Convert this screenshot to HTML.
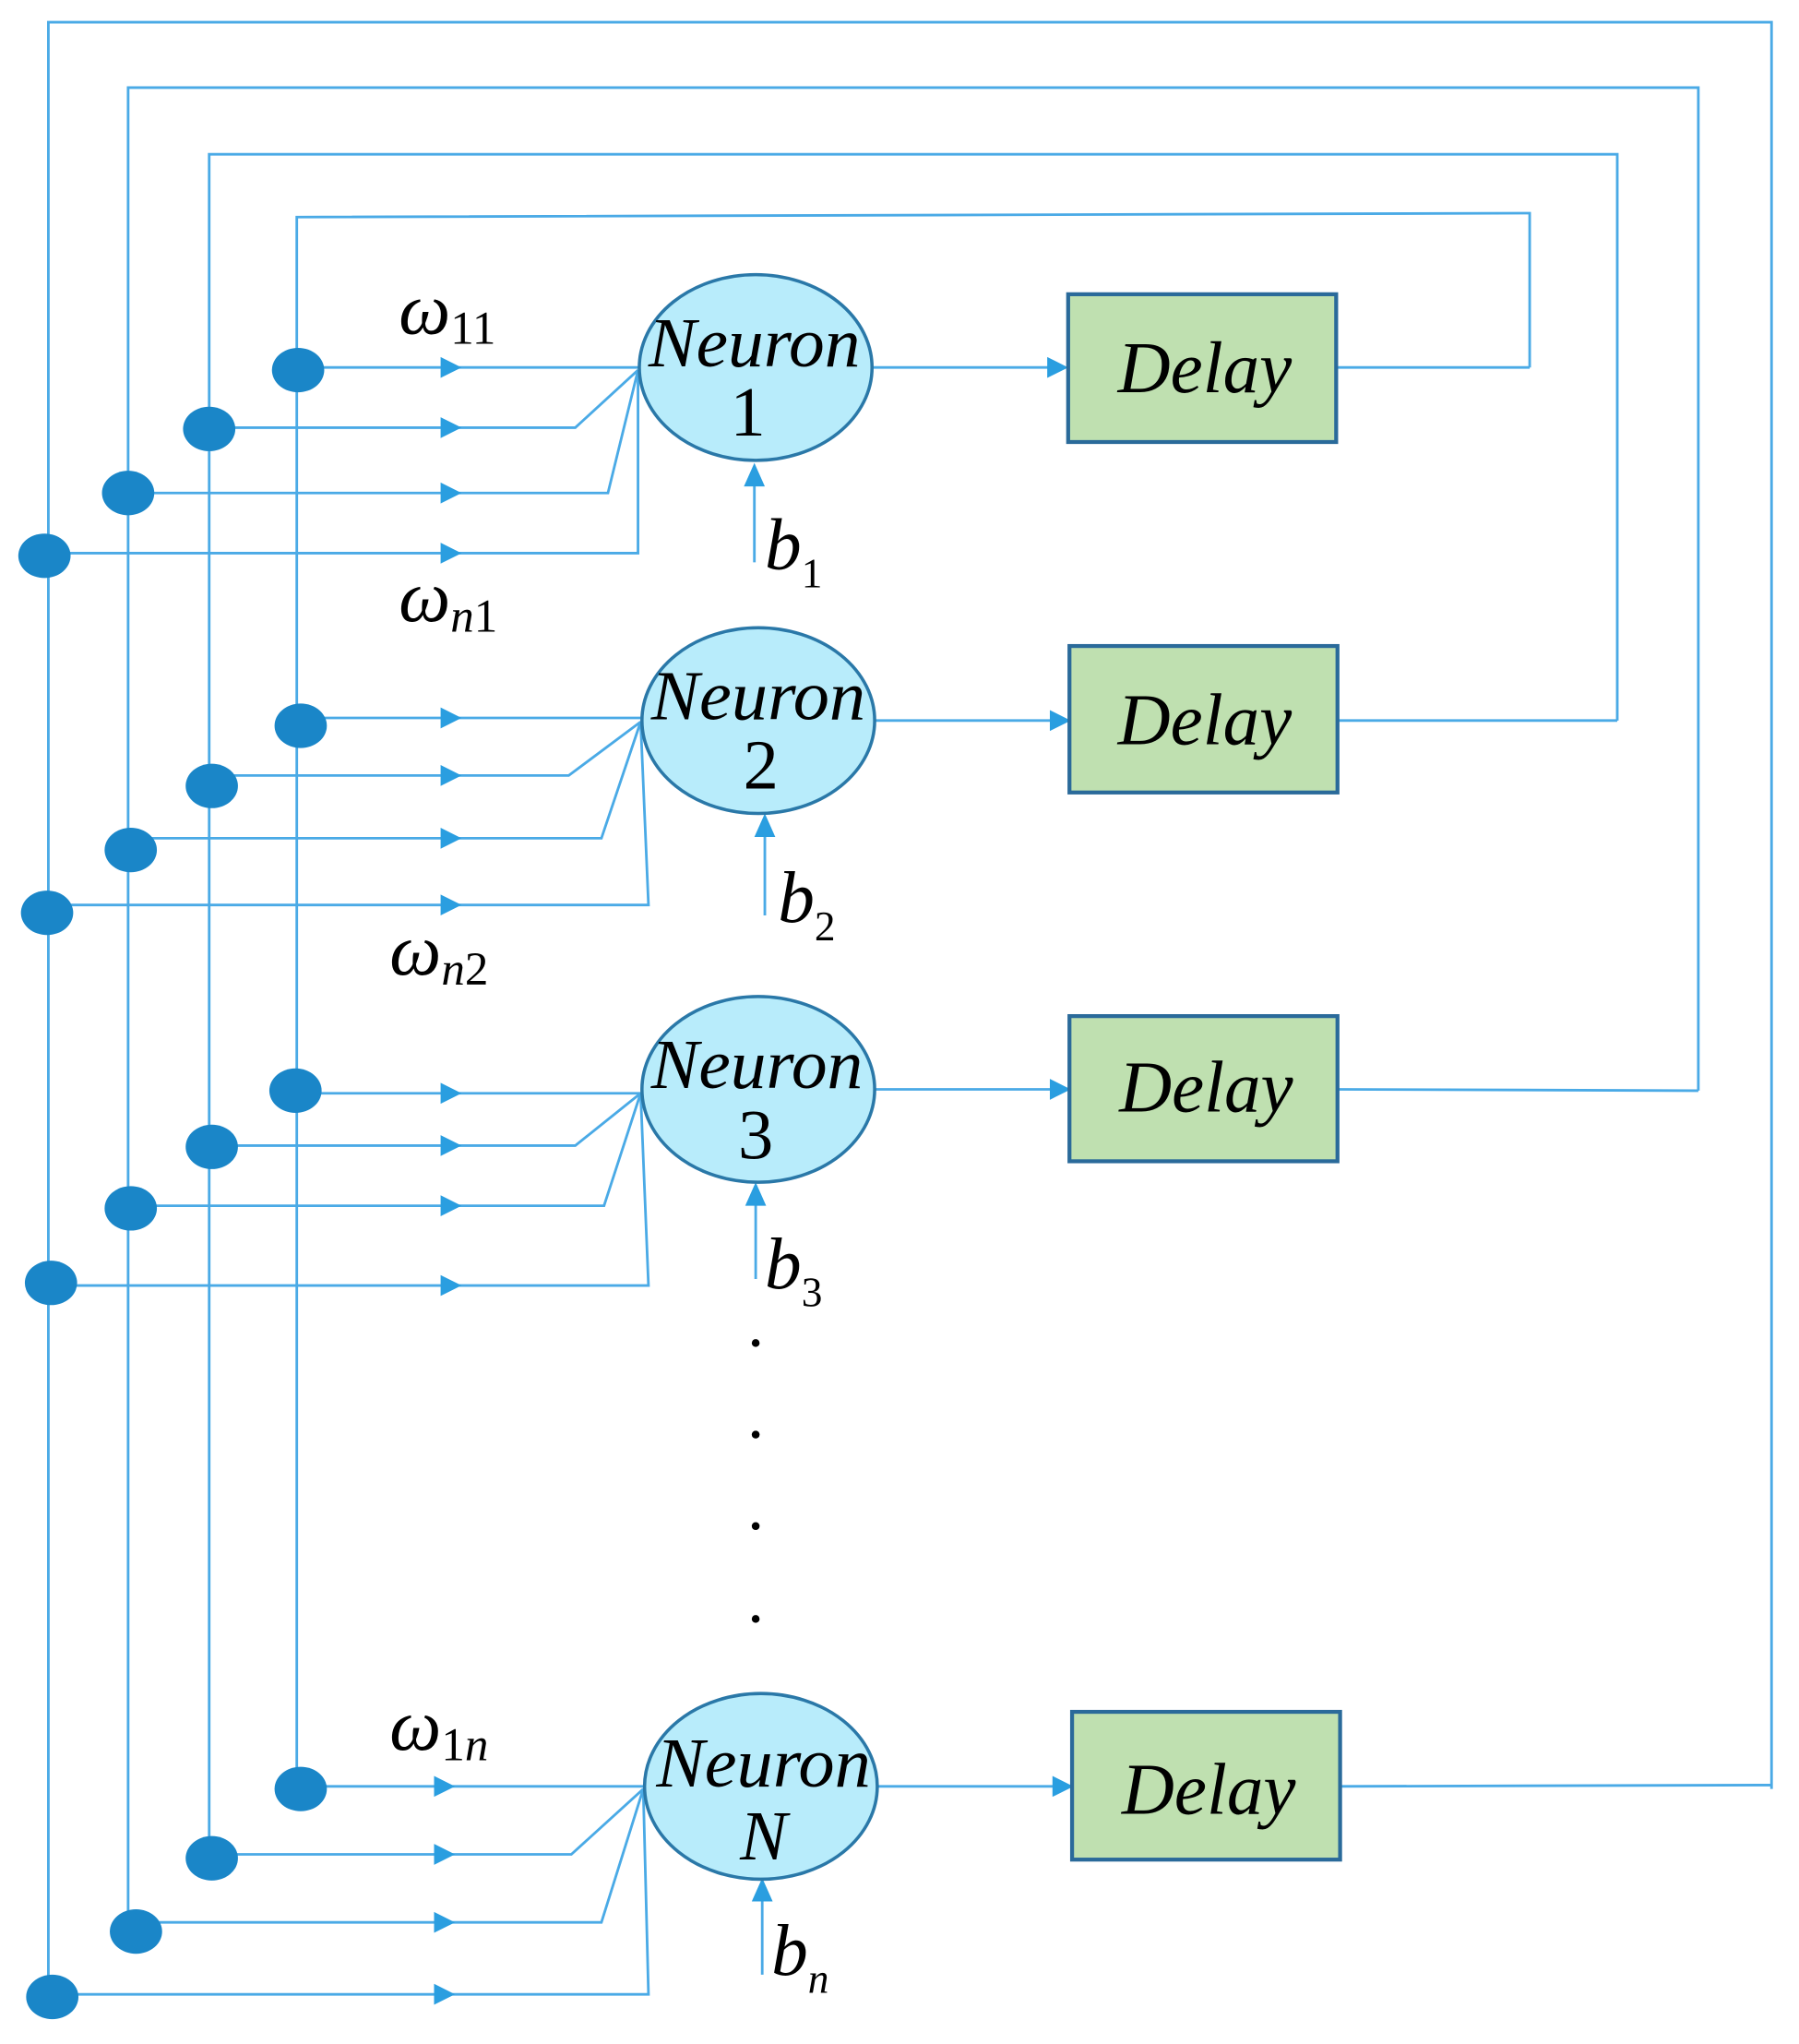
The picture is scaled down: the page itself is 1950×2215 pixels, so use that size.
<!DOCTYPE html>
<html><head><meta charset="utf-8"><style>
html,body{margin:0;padding:0;background:#fff;width:1950px;height:2215px;overflow:hidden}
svg{display:block}
text{font-family:"Liberation Serif",serif;font-style:italic;fill:#000}
</style></head><body>
<svg width="1950" height="2215" viewBox="0 0 1376 1563" preserveAspectRatio="none" xmlns="http://www.w3.org/2000/svg">
<defs>
<g id="ar"><polygon points="-8,-8 8,0 -8,8" fill="#2a9ee0"/></g>
<g id="au"><polygon points="-8,8 0,-10 8,8" fill="#2a9ee0"/></g>
</defs>
<g fill="none" stroke="#4aaae6" stroke-width="2">
<polyline points="37,1527 37,17 1355,17 1355,1368"/>
<polyline points="98,1478 98,67 1299,67 1299,834"/>
<polyline points="160,1421 160,118 1237,118 1237,551"/>
<polyline points="227,1368 227,166 1170,163 1170,281"/>
<line x1="1022" y1="281" x2="1170" y2="281"/>
<line x1="1023" y1="551" x2="1237" y2="551"/>
<line x1="1023" y1="833" x2="1299" y2="834"/>
<line x1="1025" y1="1366" x2="1355" y2="1365"/>
<polyline points="228,281 488,281"/>
<polyline points="160,327 440,327 488,283"/>
<polyline points="98,377 465,377 488,283"/>
<polyline points="34,423 488,423 488,283"/>
<line x1="668" y1="281" x2="810" y2="281"/>
<line x1="577" y1="430" x2="577" y2="365"/>
<polyline points="230,549 490,549"/>
<polyline points="162,593 435,593 490,552"/>
<polyline points="100,641 460,641 490,552"/>
<polyline points="36,692 496,692 490,552"/>
<line x1="670" y1="551" x2="812" y2="551"/>
<line x1="585" y1="700" x2="585" y2="633"/>
<polyline points="226,836 490,836"/>
<polyline points="162,876 440,876 490,836"/>
<polyline points="100,922 462,922 490,836"/>
<polyline points="39,983 496,983 490,836"/>
<line x1="670" y1="833" x2="812" y2="833"/>
<line x1="578" y1="978" x2="578" y2="915"/>
<polyline points="230,1366 492,1366"/>
<polyline points="162,1418 437,1418 492,1368"/>
<polyline points="104,1470 460,1470 492,1368"/>
<polyline points="40,1525 496,1525 492,1368"/>
<line x1="672" y1="1366" x2="814" y2="1366"/>
<line x1="583" y1="1510" x2="583" y2="1447"/>
</g>
<use href="#ar" x="345" y="281"/><use href="#ar" x="345" y="327"/><use href="#ar" x="345" y="377"/><use href="#ar" x="345" y="423"/>
<use href="#ar" x="345" y="549"/><use href="#ar" x="345" y="593"/><use href="#ar" x="345" y="641"/><use href="#ar" x="345" y="692"/>
<use href="#ar" x="345" y="836"/><use href="#ar" x="345" y="876"/><use href="#ar" x="345" y="922"/><use href="#ar" x="345" y="983"/>
<use href="#ar" x="340" y="1366"/><use href="#ar" x="340" y="1418"/><use href="#ar" x="340" y="1470"/><use href="#ar" x="340" y="1525"/>
<use href="#ar" x="809" y="281"/><use href="#ar" x="811" y="551"/><use href="#ar" x="811" y="833"/><use href="#ar" x="813" y="1366"/>
<use href="#au" x="577" y="364"/><use href="#au" x="585" y="632"/><use href="#au" x="578" y="914"/><use href="#au" x="583" y="1446"/>
<g fill="#1a86c8">
<ellipse cx="228" cy="283" rx="20" ry="17"/><ellipse cx="160" cy="328" rx="20" ry="17"/><ellipse cx="98" cy="377" rx="20" ry="17"/><ellipse cx="34" cy="425" rx="20" ry="17"/>
<ellipse cx="230" cy="555" rx="20" ry="17"/><ellipse cx="162" cy="601" rx="20" ry="17"/><ellipse cx="100" cy="650" rx="20" ry="17"/><ellipse cx="36" cy="698" rx="20" ry="17"/>
<ellipse cx="226" cy="834" rx="20" ry="17"/><ellipse cx="162" cy="877" rx="20" ry="17"/><ellipse cx="100" cy="924" rx="20" ry="17"/><ellipse cx="39" cy="981" rx="20" ry="17"/>
<ellipse cx="230" cy="1368" rx="20" ry="17"/><ellipse cx="162" cy="1421" rx="20" ry="17"/><ellipse cx="104" cy="1477" rx="20" ry="17"/><ellipse cx="40" cy="1527" rx="20" ry="17"/>
</g>
<g fill="#b8ecfb" stroke="#2a78a8" stroke-width="2.5">
<ellipse cx="578" cy="281" rx="89" ry="71"/>
<ellipse cx="580" cy="551" rx="89" ry="71"/>
<ellipse cx="580" cy="833" rx="89" ry="71"/>
<ellipse cx="582" cy="1366" rx="89" ry="71"/>
</g>
<g font-size="54">
<text x="496" y="280" textLength="162" lengthAdjust="spacingAndGlyphs">Neuron</text><text x="572" y="333" text-anchor="middle" style="font-style:normal">1</text>
<text x="498" y="550" textLength="164" lengthAdjust="spacingAndGlyphs">Neuron</text><text x="582" y="603" text-anchor="middle" style="font-style:normal">2</text>
<text x="498" y="832" textLength="162" lengthAdjust="spacingAndGlyphs">Neuron</text><text x="578" y="886" text-anchor="middle" style="font-style:normal">3</text>
<text x="502" y="1366" textLength="164" lengthAdjust="spacingAndGlyphs">Neuron</text><text x="584" y="1422" text-anchor="middle">N</text>
</g>
<g fill="#bfe0b0" stroke="#2a6a9a" stroke-width="3">
<rect x="817" y="225" width="205" height="113"/>
<rect x="818" y="494" width="205" height="112"/>
<rect x="818" y="777" width="205" height="111"/>
<rect x="820" y="1309" width="205" height="113"/>
</g>
<g font-size="56">
<text x="855" y="300" textLength="133" lengthAdjust="spacingAndGlyphs">Delay</text>
<text x="855" y="569" textLength="133" lengthAdjust="spacingAndGlyphs">Delay</text>
<text x="856" y="850" textLength="133" lengthAdjust="spacingAndGlyphs">Delay</text>
<text x="858" y="1387" textLength="133" lengthAdjust="spacingAndGlyphs">Delay</text>
</g>
<g font-size="56">
<text x="305" y="255">ω<tspan font-size="36" dy="8" style="font-style:normal">11</tspan></text>
<text x="305" y="475">ω<tspan font-size="36" dy="8">n</tspan><tspan font-size="36" style="font-style:normal">1</tspan></text>
<text x="298" y="745">ω<tspan font-size="36" dy="8">n</tspan><tspan font-size="36" style="font-style:normal">2</tspan></text>
<text x="298" y="1338">ω<tspan font-size="36" dy="8" style="font-style:normal">1</tspan><tspan font-size="36">n</tspan></text>
<text x="585" y="435">b<tspan font-size="32" dy="14" style="font-style:normal">1</tspan></text>
<text x="595" y="705">b<tspan font-size="32" dy="14" style="font-style:normal">2</tspan></text>
<text x="585" y="985">b<tspan font-size="32" dy="14" style="font-style:normal">3</tspan></text>
<text x="590" y="1510">b<tspan font-size="32" dy="14">n</tspan></text>
</g>
<g fill="#000">
<circle cx="578" cy="1027" r="3"/><circle cx="578" cy="1097" r="3"/><circle cx="578" cy="1167" r="3"/><circle cx="578" cy="1238" r="3"/>
</g>
</svg>
</body></html>
